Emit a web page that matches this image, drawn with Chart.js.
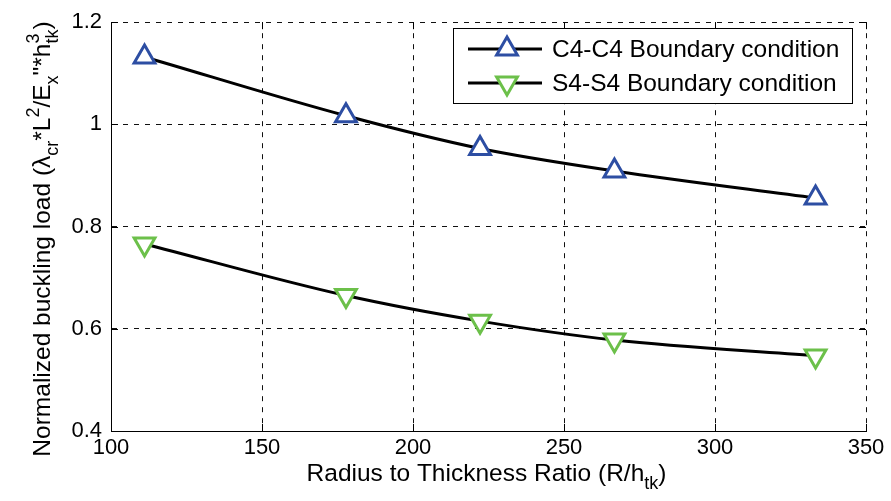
<!DOCTYPE html>
<html><head><meta charset="utf-8">
<script src="https://cdn.jsdelivr.net/npm/chart.js@4/dist/chart.umd.min.js"></script>
<style>html,body{margin:0;padding:0;background:#fff;}#c{display:block;}</style>
</head><body>
<canvas id="c" width="891" height="501"></canvas>
<script>
const ratios = [111.1, 177.8, 222.2, 266.7, 333.3];
const c4Values = [1.132, 1.017, 0.953, 0.909, 0.856];
const s4Values = [0.766, 0.665, 0.615, 0.578, 0.547];
const seriesNames = ['C4-C4 Boundary condition', 'S4-S4 Boundary condition'];
const xTicks = [100, 150, 200, 250, 300, 350];
const yTicks = [0.4, 0.6, 0.8, 1.0, 1.2];

const FONT = '"Liberation Sans", Arial, sans-serif';
const BLUE = '#2d4ea3';
const GREEN = '#6cc04a';

function pts(xs, ys){ return xs.map((x,i)=>({x:x, y:ys[i]})); }

function richWidth(ctx, segs, base, small){
  let w = 0;
  for (const s of segs){
    if (s.n !== undefined){ ctx.font = base+'px '+FONT; w += ctx.measureText(s.n).width; }
    else {
      ctx.font = small+'px '+FONT;
      const a = s.sup ? ctx.measureText(s.sup).width : 0;
      const b = s.sub ? ctx.measureText(s.sub).width : 0;
      w += Math.max(a,b);
    }
  }
  return w;
}
function drawRich(ctx, segs, x, y, base, small){
  ctx.textBaseline = 'alphabetic'; ctx.textAlign = 'left';
  for (const s of segs){
    if (s.n !== undefined){ ctx.font = base+'px '+FONT; ctx.fillText(s.n, x, y); x += ctx.measureText(s.n).width; }
    else {
      ctx.font = small+'px '+FONT;
      let a=0,b=0;
      if (s.sup){ ctx.fillText(s.sup, x, y - base*0.45); a = ctx.measureText(s.sup).width; }
      if (s.sub){ ctx.fillText(s.sub, x, y + base*0.33); b = ctx.measureText(s.sub).width; }
      x += Math.max(a,b);
    }
  }
}

const xTitle = [{n:'Radius to Thickness Ratio (R/h'},{sub:'tk'},{n:')'}];
const yTitle = [{n:'Normalized buckling load ('},{n:'\u03bb'},{sub:'cr'},{n:'*L'},{sup:'2'},{n:'/E'},{sub:'x'},{n:'"*h'},{sup:'3',sub:'tk'},{n:')'}];

const decor = {
  id:'decor',
  afterDraw(chart){
    const ctx = chart.ctx, a = chart.chartArea;
    const xs = chart.scales.x, ys = chart.scales.y;
    ctx.save();
    ctx.strokeStyle = '#000'; ctx.lineWidth = 1; ctx.setLineDash([]);
    ctx.beginPath();
    for (const t of xTicks){
      const px = Math.round(xs.getPixelForValue(t))+0.5;
      ctx.moveTo(px, a.bottom); ctx.lineTo(px, a.bottom-7);
      ctx.moveTo(px, a.top); ctx.lineTo(px, a.top+7);
    }
    for (const t of yTicks){
      const py = Math.round(ys.getPixelForValue(t))+0.5;
      ctx.moveTo(a.left, py); ctx.lineTo(a.left+7, py);
      ctx.moveTo(a.right, py); ctx.lineTo(a.right-7, py);
    }
    ctx.stroke();
    // axis titles
    ctx.fillStyle = '#000';
    const base = 24.5, small = 18;
    const wx = richWidth(ctx, xTitle, base, small);
    drawRich(ctx, xTitle, (a.left+a.right)/2 - wx/2 - 2, 481, base, small);
    const wy = richWidth(ctx, yTitle, base, small);
    ctx.save();
    ctx.translate(50, 239);
    ctx.rotate(-Math.PI/2);
    drawRich(ctx, yTitle, -wy/2, 0, base, small);
    ctx.restore();
    // legend
    const lx = 453.5, ly = 28.5, lw = 399, lh = 75;
    ctx.fillStyle = '#fff'; ctx.fillRect(lx, ly, lw, lh);
    ctx.strokeStyle = '#000'; ctx.lineWidth = 1; ctx.strokeRect(lx, ly, lw, lh);
    const rows = [{y:49, color:BLUE, rot:0},{y:83, color:GREEN, rot:180}];
    rows.forEach((r,i)=>{
      ctx.strokeStyle = '#000'; ctx.lineWidth = 3;
      ctx.beginPath(); ctx.moveTo(468, r.y); ctx.lineTo(542, r.y); ctx.stroke();
      ctx.fillStyle = '#fff'; ctx.strokeStyle = r.color; ctx.lineWidth = 3;
      Chart.helpers.drawPoint(ctx, {pointStyle:'triangle', radius:12, rotation:r.rot, borderWidth:3}, 507, r.y);
      ctx.fillStyle = '#000'; ctx.font = '24.5px '+FONT; ctx.textBaseline='middle'; ctx.textAlign='left';
      ctx.fillText(seriesNames[i], 552, r.y+1);
    });
    ctx.restore();
  }
};

new Chart(document.getElementById('c'), {
  type:'line',
  data:{datasets:[
    {label:seriesNames[0], data:pts(ratios,c4Values), borderColor:'#000', borderWidth:3,
     pointStyle:'triangle', pointRadius:12, pointBorderWidth:3, pointBorderColor:BLUE, pointBackgroundColor:'#fff',
     cubicInterpolationMode:'monotone'},
    {label:seriesNames[1], data:pts(ratios,s4Values), borderColor:'#000', borderWidth:3,
     pointStyle:'triangle', pointRotation:180, pointRadius:12, pointBorderWidth:3, pointBorderColor:GREEN, pointBackgroundColor:'#fff',
     cubicInterpolationMode:'monotone'}
  ]},
  options:{
    responsive:false, animation:false, devicePixelRatio:1,
    layout:{padding:{top:20, right:25, left:0, bottom:0}},
    plugins:{legend:{display:false}, tooltip:{enabled:false}},
    scales:{
      x:{type:'linear', min:100, max:350,
         afterBuildTicks(s){ s.ticks = xTicks.map(v=>({value:v})); },
         afterFit(s){ s.height = 70; },
         grid:{color:'#111', lineWidth:1, drawTicks:false},
         border:{display:true, color:'#000', width:1, dash:[5,6]},
         ticks:{color:'#000', font:{family:FONT, size:22}, padding:4, maxRotation:0}},
      y:{type:'linear', min:0.4, max:1.2,
         afterBuildTicks(s){ s.ticks = yTicks.map(v=>({value:v})); },
         afterFit(s){ s.width = 111; },
         grid:{color:'#111', lineWidth:1, drawTicks:false},
         border:{display:true, color:'#000', width:1, dash:[5,6]},
         ticks:{color:'#000', font:{family:FONT, size:22}, padding:9, callback:v=>String(+v.toFixed(1))}}
    }
  },
  plugins:[decor]
});
</script>
</body></html>
